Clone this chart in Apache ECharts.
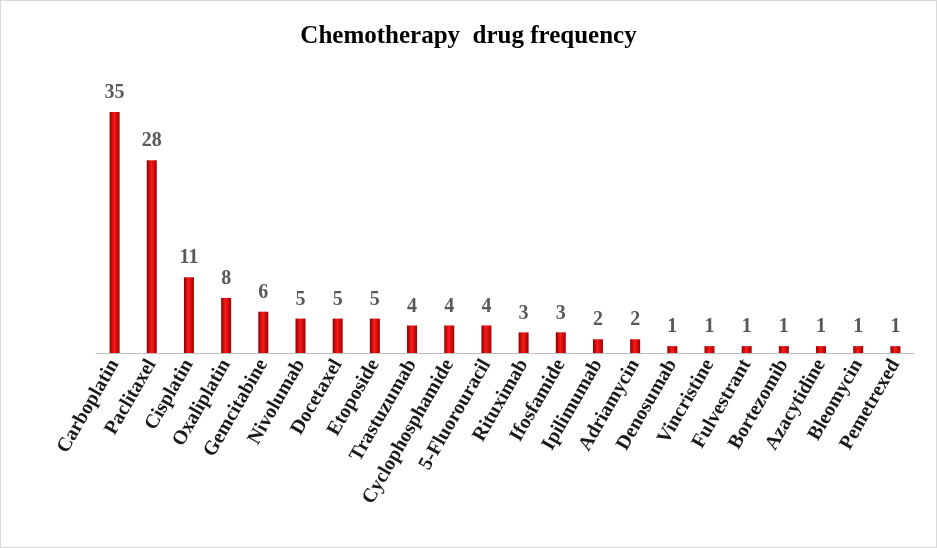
<!DOCTYPE html>
<html>
<head>
<meta charset="utf-8">
<script src="https://cdn.jsdelivr.net/npm/echarts@6/dist/echarts.min.js"></script>
<style>
  html, body { margin: 0; padding: 0; background: #fff; }
  #chart { width: 935px; height: 546px; border: 1px solid #d9d9d9; }
</style>
</head>
<body>
<div id="chart"></div>
<script>
// 数据
var drugs = ['Carboplatin', 'Paclitaxel', 'Cisplatin', 'Oxaliplatin', 'Gemcitabine', 'Nivolumab',
    'Docetaxel', 'Etoposide', 'Trastuzumab', 'Cyclophosphamide', '5-Fluorouracil', 'Rituximab',
    'Ifosfamide', 'Ipilimumab', 'Adriamycin', 'Denosumab', 'Vincristine', 'Fulvestrant',
    'Bortezomib', 'Azacytidine', 'Bleomycin', 'Pemetrexed'];
var counts = [35, 28, 11, 8, 6, 5, 5, 5, 4, 4, 4, 3, 3, 2, 2, 1, 1, 1, 1, 1, 1, 1];

var chart = echarts.init(document.getElementById('chart'));

// 柱子的渐变色，模拟圆柱效果
var barColor = new echarts.graphic.LinearGradient(0, 0, 1, 0, [
    { offset: 0, color: '#8b0000' },
    { offset: 0.45, color: '#ff1a1a' },
    { offset: 1, color: '#a00000' }
]);

var option = {
    animation: false,
    title: {
        text: 'Chemotherapy  drug frequency',
        left: 'center',
        top: 18,
        textStyle: { fontFamily: 'Liberation Serif', fontWeight: 'bold', fontSize: 25, color: '#000' }
    },
    grid: { left: 95, right: 22, top: 111, bottom: 194 },
    xAxis: {
        type: 'category',
        data: drugs,
        axisLine: { lineStyle: { color: '#bfbfbf' } },
        axisTick: { show: false },
        axisLabel: {
            rotate: 60,
            interval: 0,
            margin: 8,
            fontFamily: 'Liberation Serif',
            fontWeight: 'bold',
            fontSize: 20,
            color: '#1a1a1a'
        }
    },
    yAxis: {
        type: 'value',
        min: 0,
        max: 35,
        show: false
    },
    series: [{
        type: 'bar',
        data: counts,
        barWidth: 10,
        itemStyle: { color: barColor },
        label: {
            show: true,
            position: 'top',
            distance: 9,
            fontFamily: 'Liberation Serif',
            fontWeight: 'bold',
            fontSize: 20,
            color: '#595959'
        }
    }]
};

chart.setOption(option);
</script>
</body>
</html>
